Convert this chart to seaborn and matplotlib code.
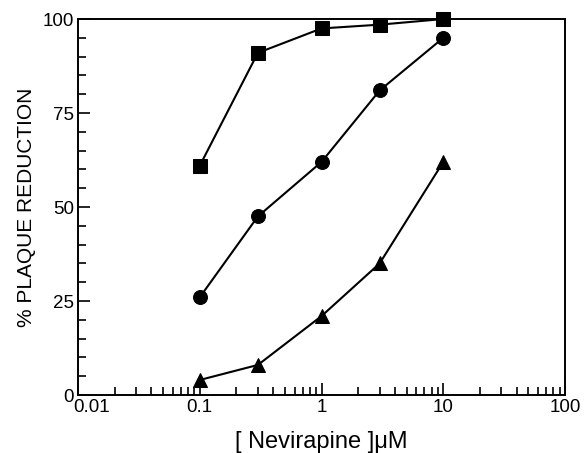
"""
Plaque reduction vs nevirapine concentration, three dose-response curves.
"""

import matplotlib

matplotlib.use("Agg")
import matplotlib.pyplot as plt
import matplotlib.ticker as mticker
import matplotlib.transforms as mtransforms
import pandas as pd
import seaborn as sns

CONC = [0.1, 0.3, 1, 3, 10]
SQUARES = [61, 91, 97.5, 98.5, 100]
CIRCLES = [26, 47.5, 62, 81, 95]
TRIANGLES = [4, 8, 21, 35, 62]

df = pd.concat(
    [
        pd.DataFrame({"conc": CONC, "pct": SQUARES, "series": "square"}),
        pd.DataFrame({"conc": CONC, "pct": CIRCLES, "series": "circle"}),
        pd.DataFrame({"conc": CONC, "pct": TRIANGLES, "series": "triangle"}),
    ],
    ignore_index=True,
)

sns.set_style("ticks")
plt.rcParams["font.family"] = ["Liberation Sans", "DejaVu Sans"]
plt.rcParams["text.color"] = "black"
plt.rcParams["axes.labelcolor"] = "black"

fig = plt.figure(figsize=(5.84, 4.53), dpi=100)
ax = fig.add_axes([0.1336, 0.128, 0.834, 0.830])

sns.lineplot(
    data=df, x="conc", y="pct", style="series", units="series", estimator=None,
    markers={"square": "s", "circle": "o", "triangle": "^"},
    dashes=False, color="black", linewidth=1.5, markersize=10,
    markeredgecolor="black", legend=False, ax=ax, clip_on=False,
)

ax.set_xscale("log")
ax.set_xlim(0.01, 100)
ax.set_ylim(0, 100)
ax.set_xticks([0.01, 0.1, 1, 10, 100])
ax.xaxis.set_major_formatter(mticker.FuncFormatter(lambda v, _: f"{v:g}"))
ax.xaxis.set_minor_locator(mticker.LogLocator(base=10, subs=range(2, 10)))
ax.xaxis.set_minor_formatter(mticker.NullFormatter())
ax.set_yticks([0, 25, 50, 75, 100])
ax.yaxis.set_minor_locator(mticker.MultipleLocator(5))

ax.tick_params(which="both", direction="in", color="black", width=1.2,
               labelsize=13.5, labelcolor="black", top=False, right=False)
ax.tick_params(which="major", length=8.5, pad=3)
ax.tick_params(which="minor", length=5.5)

# nudge "0.01" right so it clears the "0" on the y axis
first = ax.get_xticklabels()[0]
first.set_transform(first.get_transform() + mtransforms.ScaledTranslation(14 / 100, 0, fig.dpi_scale_trans))

for s in ax.spines.values():
    s.set_visible(True)
    s.set_color("black")
    s.set_linewidth(1.4)

ax.set_xlabel("[ Nevirapine ]\u03bcM", fontsize=17, labelpad=11)
ax.set_ylabel("% PLAQUE REDUCTION", fontsize=15, labelpad=5)

fig.savefig("out.png", dpi=100)
